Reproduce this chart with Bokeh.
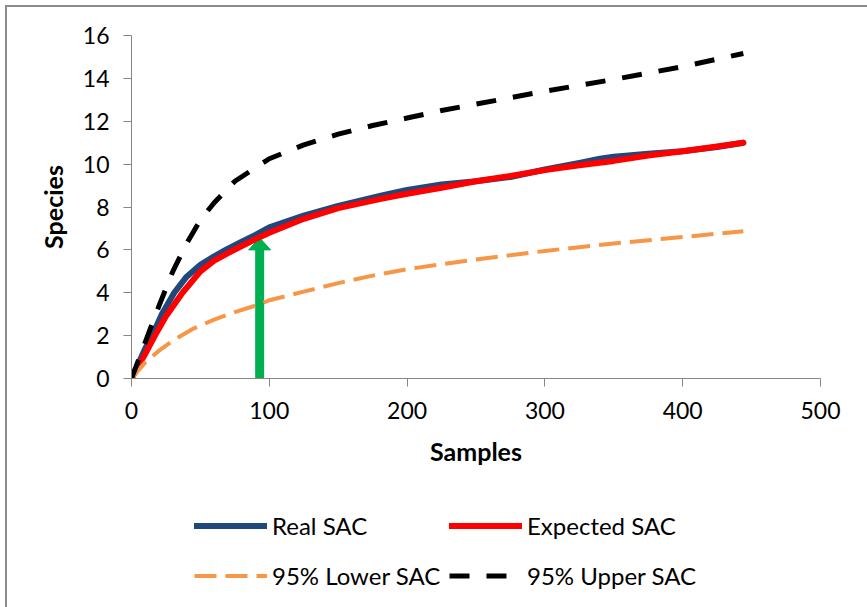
from bokeh.plotting import figure
from bokeh.layouts import column
from bokeh.models import Range1d, FixedTicker, Legend, LegendItem
from bokeh.embed import file_html
from bokeh.resources import INLINE

# ---- data ----
real_x = [0, 10, 15, 22, 31, 40, 50, 60, 69, 80, 90, 100, 125, 150, 181, 200, 225, 250, 275, 300, 325, 340, 350, 375, 400, 425, 444]
real_y = [0, 1.4, 2.0, 3.0, 4.0, 4.75, 5.3, 5.7, 6.02, 6.38, 6.7, 7.05, 7.6, 8.05, 8.53, 8.8, 9.05, 9.2, 9.4, 9.75, 10.05, 10.25, 10.35, 10.48, 10.6, 10.8, 11.0]

exp_x = [0, 10, 17, 25, 37, 50, 60, 70, 80, 90, 100, 125, 150, 181, 200, 225, 250, 275, 300, 325, 350, 375, 400, 425, 444]
exp_y = [0, 1.15, 2.0, 2.9, 4.0, 5.0, 5.5, 5.85, 6.18, 6.5, 6.8, 7.45, 7.95, 8.38, 8.62, 8.9, 9.2, 9.45, 9.72, 9.95, 10.15, 10.4, 10.6, 10.82, 11.0]

low_x = [0, 10, 20, 30, 45, 60, 75, 90, 100, 125, 150, 175, 200, 250, 300, 350, 400, 444]
low_y = [0, 0.75, 1.3, 1.77, 2.33, 2.75, 3.1, 3.4, 3.65, 4.05, 4.45, 4.8, 5.1, 5.55, 5.95, 6.3, 6.6, 6.87]

up_x = [0, 10, 20, 30, 40, 50, 60, 75, 100, 125, 150, 175, 200, 225, 250, 275, 300, 350, 400, 444]
up_y = [0, 1.7, 3.4, 5.0, 6.3, 7.4, 8.2, 9.2, 10.25, 10.9, 11.4, 11.8, 12.15, 12.5, 12.8, 13.1, 13.4, 13.95, 14.55, 15.16]

series_names = ["Real SAC", "Expected SAC", "95% Lower SAC", "95% Upper SAC"]

x_ticks = [0, 100, 200, 300, 400, 500]
y_ticks = [0, 2, 4, 6, 8, 10, 12, 14, 16]

# annotation arrow (x position, shaft start, head base, tip)
arrow_x = 93
arrow_base = 0
arrow_head_base = 6.0
arrow_tip = 6.56
arrow_half_w = 8

FONT = "Lato"
BORDER = "#8C8C8C"
STYLES = [
    dict(line_color="#1F497D", line_width=6, line_cap="round", line_join="round"),
    dict(line_color="#FF0000", line_width=6, line_cap="round", line_join="round"),
    dict(line_color="#F79646", line_width=4, line_dash="22 9", line_join="round"),
    dict(line_color="black", line_width=5, line_dash="20 17", line_join="round"),
]
SERIES = [(real_x, real_y), (exp_x, exp_y), (low_x, low_y), (up_x, up_y)]

MAIN_H = 480
LEG_H = 607 - MAIN_H

p = figure(width=867, height=MAIN_H, x_range=Range1d(0, 500), y_range=Range1d(0, 16),
           output_backend="svg", toolbar_location=None,
           min_border_left=131, min_border_right=47, min_border_top=35, min_border_bottom=MAIN_H - 378)
p.background_fill_color = "white"
p.border_fill_color = None
p.outline_line_color = None
p.xgrid.visible = False
p.ygrid.visible = False

for ax, ticks in ((p.xaxis, x_ticks), (p.yaxis, y_ticks)):
    ax.ticker = FixedTicker(ticks=ticks)
    ax.minor_tick_line_color = None
    ax.axis_line_color = "#868686"
    ax.major_tick_line_color = "#868686"
    ax.major_tick_in = 0
    ax.major_tick_out = 8
    ax.major_label_text_font = FONT
    ax.major_label_text_font_size = "23px"
    ax.major_label_text_color = "black"
    ax.axis_label_text_font = FONT
    ax.axis_label_text_font_size = "25px"
    ax.axis_label_text_font_style = "bold"
    ax.axis_label_text_color = "black"

p.xaxis.axis_label = "Samples"
p.yaxis.axis_label = "Species"
p.xaxis.major_label_standoff = 15
p.yaxis.major_label_standoff = 14
p.xaxis.axis_label_standoff = 14
p.yaxis.axis_label_standoff = 12

# arrow
p.segment(x0=[arrow_x], y0=[arrow_base], x1=[arrow_x], y1=[arrow_head_base],
          line_color="#00B050", line_width=9, line_cap="butt")
p.patch(x=[arrow_x - arrow_half_w, arrow_x + arrow_half_w, arrow_x],
        y=[arrow_head_base, arrow_head_base, arrow_tip],
        fill_color="#00B050", line_color="#00B050", line_width=1)

for (xs, ys), st in zip(SERIES, STYLES):
    p.line(xs, ys, **st)

# legend strip placed under the chart (its view range is away from the data, so only the legend shows)
lf = figure(width=867, height=LEG_H, x_range=Range1d(1000, 1001), y_range=Range1d(1000, 1001),
            output_backend="svg", toolbar_location=None,
            min_border_left=0, min_border_right=0, min_border_top=0, min_border_bottom=0)
lf.axis.visible = False
lf.grid.visible = False
lf.outline_line_color = None
lf.background_fill_color = None
lf.border_fill_color = None

items = {}
for name, (xs, ys), st in zip(series_names, SERIES, STYLES):
    r = lf.line(xs, ys, **st)
    items[name] = LegendItem(label=name, renderers=[r])

legend = Legend(
    items=[items[series_names[0]], items[series_names[2]], items[series_names[1]], items[series_names[3]]],
    ncols=2, location=(63, 10),
    glyph_width=73, glyph_height=43, label_height=43, label_width=170, label_standoff=5,
    spacing=7, padding=0, margin=0, border_line_color=None, background_fill_alpha=0,
    label_text_font=FONT, label_text_font_size="24px", label_text_color="black",
)
lf.add_layout(legend, "center")

layout = column(p, lf, spacing=0, styles={
    "background-color": "white",
    "background-image": f"linear-gradient({BORDER},{BORDER}), linear-gradient({BORDER},{BORDER})",
    "background-size": "2px 100%, 100% 2px",
    "background-position": "5px 5px, 5px 5px",
    "background-repeat": "no-repeat",
})

open("out.html", "w").write(file_html(layout, INLINE))
